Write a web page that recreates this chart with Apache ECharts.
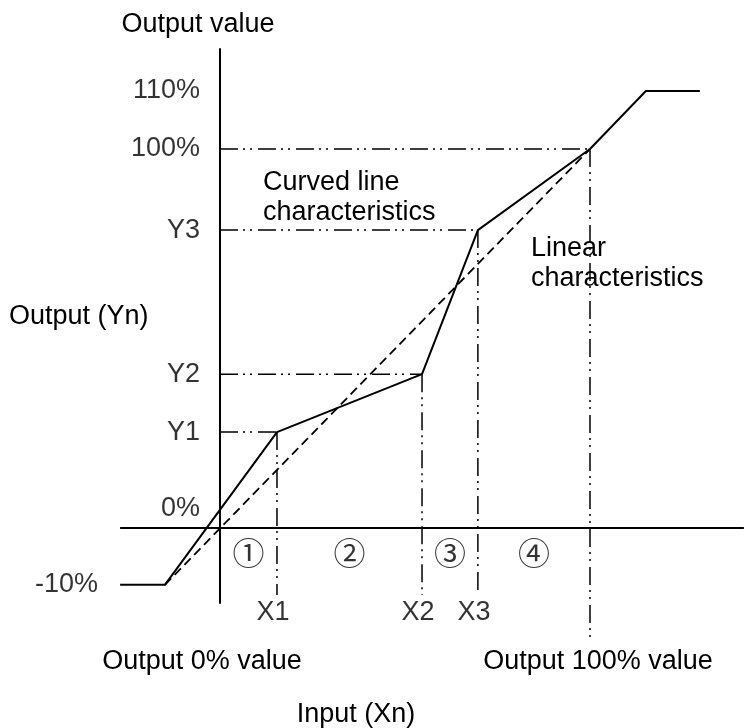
<!DOCTYPE html>
<html><head><meta charset="utf-8">
<script src="https://cdn.jsdelivr.net/npm/echarts@6/dist/echarts.min.js"></script>
<style>html,body{margin:0;padding:0;background:#fff}#c{width:744px;height:728px}</style>
</head><body><div id="c"></div>
<script>
// ---- data (schematic units: 0 = origin, 100 = 100% point) ----
const curveX = [-27.0, -14.9, 15.4, 54.6, 69.7, 100, 115.1, 129.7];
const curveY = [-15.0, -15.0, 25.3, 40.6, 78.6, 100, 115.3, 115.3];
const linearX = [-14.9, 100];
const linearY = [-15.0, 100];
const yLevelNames = ['110%', '100%', 'Y3', 'Y2', 'Y1', '0%', '-10%'];
const yLevelValues = [115.3, 100, 78.6, 40.6, 25.3, 0, -15.0];
const breakNames = ['X1', 'X2', 'X3'];
const breakX = [15.4, 54.6, 69.7];
const breakY = [25.3, 40.6, 78.6];
const fullX = 100, fullY = 100;
const regionNames = ['①', '②', '③', '④'];
const regionBounds = [0, 15.4, 54.6, 69.7, 100];
const axisXRange = [-27.0, 141.6];
const axisYRange = [-20.0, 126.6];

// ---- layout ----
const W = 744, H = 728, OX = 220, OY = 528, KX = 3.7, KY = 3.79;
const fy = py => (OY - py) / KY;
const FONT = '"Liberation Sans", Arial, sans-serif';
const FS = 27;
const refBottom = fy(595), fullBottom = fy(637);
const dashDot = [18, 5, 2, 5, 2, 6];

const series = [];
function seg(data, type, width) {
  series.push({
    type: 'line', data: data, showSymbol: false, symbol: 'none', silent: true,
    lineStyle: { color: '#000', width: width, type: type }, animation: false, z: 2
  });
}
// axes
seg([[0, axisYRange[0]], [0, axisYRange[1]]], 'solid', 2);
seg([[axisXRange[0], 0], [axisXRange[1], 0]], 'solid', 2);
// reference dash-dot-dot lines
seg([[0, fullY], [fullX, fullY]], dashDot, 1.5);
seg([[fullX, fullY], [fullX, fullBottom]], dashDot, 1.5);
breakX.forEach((x, i) => {
  seg([[0, breakY[i]], [x, breakY[i]]], dashDot, 1.5);
  seg([[x, breakY[i]], [x, refBottom]], dashDot, 1.5);
});
// linear characteristic
seg(linearX.map((x, i) => [x, linearY[i]]), [9, 5], 1.8);
// curved characteristic
seg(curveX.map((x, i) => [x, curveY[i]]), 'solid', 2);

const txt = (extra) => Object.assign({ show: true, color: '#000', fontFamily: FONT, fontSize: FS }, extra);
// y level labels
series.push({
  type: 'scatter', symbolSize: 0, silent: true, animation: false,
  data: yLevelValues.map((v, i) => {
    const name = yLevelNames[i];
    let dist = 20, off = [0, 0];
    if (name === '-10%') dist = 122;
    if (name === '0%') off = [0, -19];
    return { value: [0, v], label: txt({ formatter: name, position: 'left', distance: dist, offset: off }) };
  })
});
// X labels
series.push({
  type: 'scatter', symbolSize: 0, silent: true, animation: false,
  data: breakX.map((x, i) => ({
    value: [x, fy(613)],
    label: txt({ formatter: breakNames[i], position: 'inside', align: 'center', verticalAlign: 'middle', offset: [-4, 0] })
  }))
});
// region numbers
series.push({
  type: 'scatter', symbolSize: 0, silent: true, animation: false,
  data: regionNames.map((n, i) => ({
    value: [(regionBounds[i] + regionBounds[i + 1]) / 2, fy(553)],
    label: { show: true, formatter: n, position: 'inside', align: 'center', verticalAlign: 'middle',
      color: '#000', fontFamily: '"Noto Sans CJK JP", "DejaVu Sans", sans-serif', fontSize: 32, fontWeight: 'normal' }
  }))
});

function gtext(text, x, y, align) {
  return { type: 'text', x: x, y: y, silent: true,
    style: { text: text, fill: '#000', font: FS + 'px ' + FONT, align: align, verticalAlign: 'middle', lineHeight: 30 } };
}

const option = {
  animation: false,
  backgroundColor: '#fff',
  grid: { left: 0, right: 0, top: 0, bottom: 0 },
  xAxis: { type: 'value', min: -OX / KX, max: (W - OX) / KX, show: false, splitLine: { show: false } },
  yAxis: { type: 'value', min: -(H - OY) / KY, max: OY / KY, show: false, splitLine: { show: false } },
  series: series,
  graphic: [
    gtext('Output value', 198, 25, 'center'),
    gtext('Output (Yn)', 9, 317, 'left'),
    gtext('Curved line\ncharacteristics', 263, 198, 'left'),
    gtext('Linear\ncharacteristics', 531, 264, 'left'),
    gtext('Output 0% value', 202, 662, 'center'),
    gtext('Output 100% value', 598, 662, 'center'),
    gtext('Input (Xn)', 356, 715, 'center')
  ]
};
const chart = echarts.init(document.getElementById('c'), null, { renderer: 'canvas' });
chart.setOption(option);
</script></body></html>
